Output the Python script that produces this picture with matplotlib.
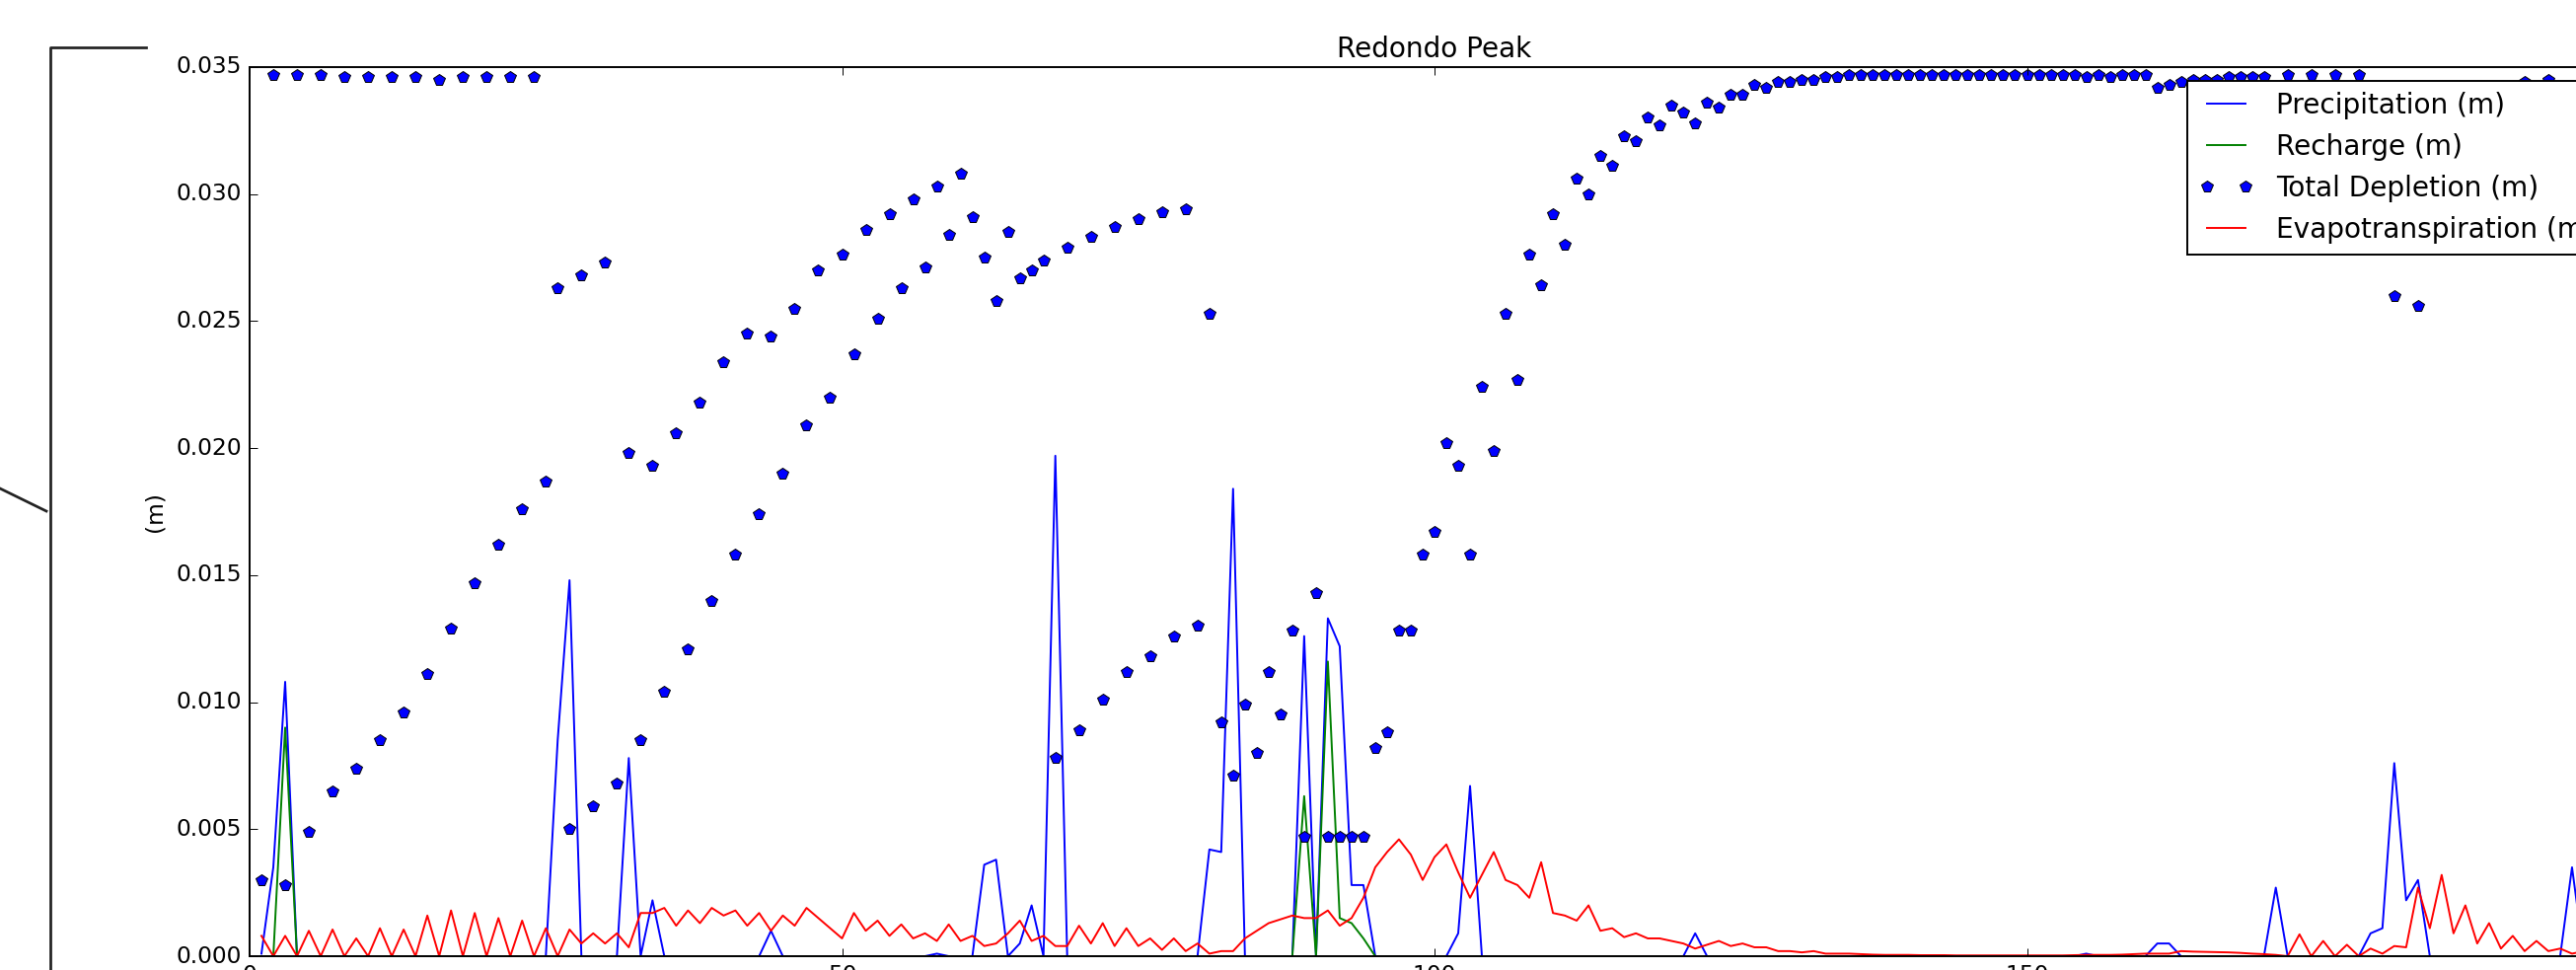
import numpy as np
import matplotlib
matplotlib.use("Agg")
import matplotlib.pyplot as plt
from matplotlib.lines import Line2D
from matplotlib.ticker import FormatStrFormatter

plt.style.use("classic")

# daily record, day 1 .. 197 (only the part up to ~196 is inside the crop)
days = np.arange(1, 198)

# precipitation (m): days with rain, every other day is 0
precip_days = [1, 2, 3, 26, 27, 32, 34, 44, 58, 62, 63, 65, 66, 68,
               81, 82, 83, 89, 91, 92, 93, 94, 102, 103, 122, 155,
               161, 162, 171, 179, 180, 181, 182, 183, 196]
precip_vals = [0.0001, 0.0035, 0.0108, 0.0085, 0.0148, 0.0078, 0.0022, 0.0010, 0.0001,
               0.0036, 0.0038, 0.0005, 0.0020, 0.0197,
               0.0042, 0.0041, 0.0184, 0.0126, 0.0133, 0.0122, 0.0028, 0.0028,
               0.0009, 0.0067, 0.0009, 0.0001,
               0.0005, 0.0005, 0.0027, 0.0009, 0.0011, 0.0076, 0.0022, 0.0030, 0.0035]

# recharge (m)
recharge_days = [3, 89, 91, 92, 93, 94]
recharge_vals = [0.0090, 0.0063, 0.0116, 0.0015, 0.0013, 0.0007]

# evapotranspiration (m), one value per day
et_vals = [
    0.0008, 0.0000, 0.0008, 0.0000, 0.0010, 0.0000, 0.00105, 0.0000, 0.0007, 0.0000,   # 1-10
    0.0011, 0.0000, 0.00105, 0.0000, 0.0016, 0.0000, 0.0018, 0.0000, 0.0017, 0.0000,   # 11-20
    0.0015, 0.0000, 0.0014, 0.0000, 0.0011, 0.0000, 0.00105, 0.0005, 0.0009, 0.0005,   # 21-30
    0.0009, 0.00035, 0.0017, 0.0017, 0.0019, 0.0012, 0.0018, 0.0013, 0.0019, 0.0016,  # 31-40
    0.0018, 0.0012, 0.0017, 0.0010, 0.0016, 0.0012, 0.0019, 0.0015, 0.0011, 0.0007,    # 41-50
    0.0017, 0.0010, 0.0014, 0.0008, 0.00125, 0.0007, 0.0009, 0.0006, 0.00125, 0.0006,  # 51-60
    0.0008, 0.0004, 0.0005, 0.0009, 0.0014, 0.0006, 0.0008, 0.0004, 0.0004, 0.0012,    # 61-70
    0.0005, 0.0013, 0.0004, 0.0011, 0.0004, 0.0007, 0.00025, 0.0007, 0.0002, 0.0005,   # 71-80
    0.0001, 0.0002, 0.0002, 0.0007, 0.0010, 0.0013, 0.00145, 0.0016, 0.0015, 0.0015,   # 81-90
    0.0018, 0.0012, 0.0015, 0.0023, 0.0035, 0.0041, 0.0046, 0.0040, 0.0030, 0.0039,    # 91-100
    0.0044, 0.0033, 0.0023, 0.0032, 0.0041, 0.0030, 0.0028, 0.0023, 0.0037, 0.0017,    # 101-110
    0.0016, 0.0014, 0.0020, 0.0010, 0.0011, 0.00075, 0.0009, 0.0007, 0.0007, 0.0006,   # 111-120
    0.0005, 0.0003, 0.00045, 0.0006, 0.0004, 0.0005, 0.00035, 0.00035, 0.0002, 0.0002, # 121-130
    0.00015, 0.0002, 0.0001, 0.0001, 0.0001, 0.00008, 0.00006, 0.00005, 0.00005, 0.00005,  # 131-140
    0.00004, 0.00004, 0.00004, 0.00003, 0.00003, 0.00003, 0.00003, 0.00003, 0.00003, 0.00003,  # 141-150
    0.00003, 0.00003, 0.00003, 0.00004, 0.00005, 0.00005, 0.00005, 0.00006, 0.00008, 0.0001,  # 151-160
    0.0001, 0.0001, 0.0002, 0.00018, 0.00017, 0.00016, 0.00015, 0.00013, 0.0001, 0.00008,  # 161-170
    0.00005, 0.0000, 0.00086, 0.0000, 0.0006, 0.0000, 0.00045, 0.0000, 0.0003, 0.0001,  # 171-180
    0.0004, 0.00035, 0.0027, 0.0011, 0.0032, 0.0009, 0.0020, 0.0005, 0.0013, 0.0003,    # 181-190
    0.0008, 0.0002, 0.0006, 0.0002, 0.0003, 0.0001, 0.0002,                            # 191-197
]

# total depletion (m), only the days that show a marker
depl_days = list(range(1, 171)) + [172, 174, 176, 178, 181, 183, 192, 194]
depl_vals = [
    0.0030, 0.0347, 0.0028, 0.0347, 0.0049, 0.0347, 0.0065, 0.0346, 0.0074, 0.0346,   # 1-10
    0.0085, 0.0346, 0.0096, 0.0346, 0.0111, 0.0345, 0.0129, 0.0346, 0.0147, 0.0346,   # 11-20
    0.0162, 0.0346, 0.0176, 0.0346, 0.0187, 0.0263, 0.0050, 0.0268, 0.0059, 0.0273,   # 21-30
    0.0068, 0.0198, 0.0085, 0.0193, 0.0104, 0.0206, 0.0121, 0.0218, 0.0140, 0.0234,   # 31-40
    0.0158, 0.0245, 0.0174, 0.0244, 0.0190, 0.0255, 0.0209, 0.0270, 0.0220, 0.0276,   # 41-50
    0.0237, 0.0286, 0.0251, 0.0292, 0.0263, 0.0298, 0.0271, 0.0303, 0.0284, 0.0308,   # 51-60
    0.0291, 0.0275, 0.0258, 0.0285, 0.0267, 0.0270, 0.0274, 0.0078, 0.0279, 0.0089,   # 61-70
    0.0283, 0.0101, 0.0287, 0.0112, 0.0290, 0.0118, 0.0293, 0.0126, 0.0294, 0.0130,   # 71-80
    0.0253, 0.0092, 0.0071, 0.0099, 0.0080, 0.0112, 0.0095, 0.0128, 0.0047, 0.0143,   # 81-90
    0.0047, 0.0047, 0.0047, 0.0047, 0.0082, 0.0088, 0.0128, 0.0128, 0.0158, 0.0167,   # 91-100
    0.0202, 0.0193, 0.0158, 0.0224, 0.0199, 0.0253, 0.0227, 0.0276, 0.0264, 0.0292,   # 101-110
    0.0280, 0.0306, 0.0300, 0.0315, 0.0311, 0.0323, 0.0321, 0.0330, 0.0327, 0.0335,   # 111-120
    0.0332, 0.0328, 0.0336, 0.0334, 0.0339, 0.0339, 0.0343, 0.0342, 0.0344, 0.0344,   # 121-130
    0.0345, 0.0345, 0.0346, 0.0346, 0.0347, 0.0347, 0.0347, 0.0347, 0.0347, 0.0347,   # 131-140
    0.0347, 0.0347, 0.0347, 0.0347, 0.0347, 0.0347, 0.0347, 0.0347, 0.0347, 0.0347,   # 141-150
    0.0347, 0.0347, 0.0347, 0.0347, 0.0346, 0.0347, 0.0346, 0.0347, 0.0347, 0.0347,   # 151-160
    0.0342, 0.0343, 0.0344, 0.0345, 0.0345, 0.0345, 0.0346, 0.0346, 0.0346, 0.0346,   # 161-170
    0.0347, 0.0347, 0.0347, 0.0347, 0.0260, 0.0256, 0.0344, 0.0345,
]

precip = np.zeros(len(days))
precip[np.array(precip_days) - 1] = precip_vals
recharge = np.zeros(len(days))
recharge[np.array(recharge_days) - 1] = recharge_vals
et = np.array(et_vals)

# the picture is a crop of a bigger figure: axes run past the right/bottom edge
W, H, DPI = 2611, 983, 140
fig = plt.figure(figsize=(W / DPI, H / DPI), dpi=DPI, facecolor="white")
ax = fig.add_axes([253 / W, 1 - 969 / H, 2402 / W, (969 - 68) / H])

ax.plot(days, precip, color="b", label="Precipitation (m)")
ax.plot(days, recharge, color="g", label="Recharge (m)")
ax.plot(depl_days, depl_vals, "bp", label="Total Depletion (m)")
ax.plot(days, et, color="r", label="Evapotranspiration (m)")

ax.set_xlim(0, 200)
ax.set_ylim(0, 0.035)
ax.set_xticks([0, 50, 100, 150, 200])
ax.set_yticks(np.arange(0, 0.0351, 0.005))
ax.yaxis.set_major_formatter(FormatStrFormatter("%.3f"))
ax.set_title("Redondo Peak")
ax.set_ylabel("(m)")
ax.legend(loc="upper right")

# leftover frame pieces at the left edge of the crop
def fig_line(xs, ys):
    fig.add_artist(Line2D([x / W for x in xs], [1 - y / H for y in ys],
                          transform=fig.transFigure, color="#222222", lw=1.4))

fig_line([51, 51, 148], [H, 48, 48])
fig_line([0, 47], [495, 518])

fig.savefig("out.png", dpi=DPI, facecolor="white")
